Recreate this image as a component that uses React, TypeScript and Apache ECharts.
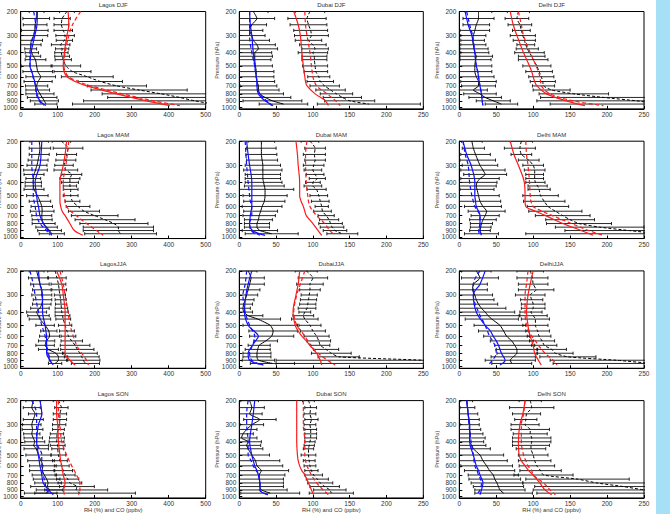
import React, { useEffect, useRef } from "react";
import * as echarts from "echarts";

// Pressure levels (hPa) of the sonde means and of the model profiles
const obsLevels = [200, 225, 250, 275, 300, 325, 350, 375, 400, 425, 450, 500, 550, 600, 650, 700, 750, 800, 850, 900, 950];
const modelLevels = [200, 250, 300, 400, 500, 550, 600, 650, 700, 800, 900, 975];
const pressureTicks = [200, 300, 400, 500, 600, 700, 800, 900, 1000];

// ---- Lagos DJF ----
const lagosDjfRh = [43, 42, 39, 38, 35, 29, 27, 27, 30, 34, 40, 43, 46, 54, 47, 43, 46, 52, 58, 64, 68];
const lagosDjfRhStd = [20, 36, 32, 36, 38, 30, 28, 16, 18, 20, 28, 42, 40, 40, 38, 30, 32, 38, 40, 38, 30];
const lagosDjfCo = [125, 112, 110, 115, 120, 118, 108, 112, 110, 112, 115, 122, 140, 180, 215, 260, 320, 380, 430, 470, 520];
const lagosDjfCoStd = [20, 22, 20, 25, 25, 22, 25, 18, 18, 20, 22, 40, 50, 70, 60, 80, 130, 160, 195, 300, 380];
const lagosDjfRhModel = [45, 44, 38, 28, 25, 30, 34, 38, 40, 44, 52, 68];
const lagosDjfRhModel2 = [35, 40, 35, 25, 25, 30, 33, 37, 40, 42, 50, 62];
const lagosDjfCoModel = [128, 130, 125, 118, 115, 117, 125, 147, 178, 259, 340, 403];
const lagosDjfCoModel2 = [162, 140, 130, 120, 117, 120, 130, 155, 190, 275, 360, 430];

// ---- Dubai DJF ----
const dubaiDjfRh = [19, 24, 17, 14, 17, 19, 24, 26, 21, 21, 21, 22, 23, 23, 24, 26, 26, 28, 35, 45, 60];
const dubaiDjfRhStd = [20, 24, 20, 18, 18, 22, 25, 26, 23, 24, 22, 23, 24, 24, 24, 25, 28, 32, 35, 40, 33];
const dubaiDjfCo = [96, 92, 94, 97, 98, 94, 100, 103, 100, 102, 102, 103, 104, 108, 110, 116, 124, 132, 140, 150, 176];
const dubaiDjfCoStd = [20, 26, 25, 23, 23, 18, 18, 18, 20, 17, 17, 17, 16, 15, 18, 20, 20, 22, 26, 34, 70];
const dubaiDjfRhModel = [14, 15, 17, 19, 21, 22, 23, 24, 24, 26, 35, 46];
const dubaiDjfRhModel2 = [14, 14, 14, 17, 21, 22, 23, 24, 24, 28, 37, 44];
const dubaiDjfCoModel = [74, 80, 83, 85, 87, 88, 89, 90, 92, 103, 117, 121];
const dubaiDjfCoModel2 = [89, 90, 92, 96, 98, 99, 100, 102, 105, 119, 131, 137];

// ---- Delhi DJF ----
const delhiDjfRh = [26, 26, 23, 21, 19, 18, 19, 20, 21, 23, 22, 21, 21, 23, 26, 26, 19, 28, 35, 46, 57];
const delhiDjfRhStd = [18, 21, 18, 20, 17, 16, 17, 19, 19, 22, 21, 23, 23, 24, 24, 23, 19, 22, 22, 23, 22];
const delhiDjfCo = [80, 78, 82, 84, 86, 88, 90, 92, 95, 98, 100, 105, 108, 111, 113, 114, 125, 155, 195, 240, 270];
const delhiDjfCoStd = [15, 16, 16, 12, 17, 15, 12, 15, 20, 18, 20, 19, 18, 17, 17, 15, 25, 47, 85, 135, 147];
const delhiDjfRhModel = [8, 12, 17, 21, 23, 25, 26, 27, 28, 30, 31, 32];
const delhiDjfRhModel2 = [10, 14, 18, 21, 23, 25, 26, 27, 28, 30, 31, 32];
const delhiDjfCoModel = [69, 73, 78, 87, 95, 98, 100, 102, 105, 118, 145, 170];
const delhiDjfCoModel2 = [80, 84, 87, 96, 104, 107, 109, 110, 111, 123, 154, 195];

// ---- Lagos MAM ----
const lagosMamRh = [50, 52, 50, 47, 44, 40, 36, 34, 34, 34, 36, 45, 52, 57, 58, 57, 58, 62, 70, 78, 84];
const lagosMamRhStd = [25, 29, 27, 27, 27, 32, 27, 20, 22, 22, 27, 29, 29, 29, 32, 27, 27, 31, 29, 32, 34];
const lagosMamCo = [110, 128, 124, 122, 117, 122, 138, 133, 133, 133, 135, 135, 140, 155, 171, 200, 228, 252, 264, 264, 270];
const lagosMamCoStd = [25, 40, 27, 27, 25, 32, 27, 27, 23, 18, 20, 20, 20, 32, 42, 63, 81, 92, 95, 95, 97];
const lagosMamRhModel = [57, 55, 52, 39, 43, 45, 48, 50, 52, 61, 75, 84];
const lagosMamRhModel2 = [30, 30, 30, 34, 34, 36, 39, 41, 43, 52, 70, 79];
const lagosMamCoModel = [124, 120, 115, 106, 106, 106, 108, 112, 120, 133, 145, 168];
const lagosMamCoModel2 = [130, 126, 122, 115, 118, 120, 124, 135, 150, 178, 205, 223];

// ---- Dubai MAM ----
const dubaiMamRh = [30, 30, 30, 31, 32, 32, 32, 32, 33, 34, 35, 35, 34, 31, 29, 27, 26, 24, 24, 28, 44];
const dubaiMamRhStd = [18, 20, 21, 21, 24, 26, 24, 24, 25, 27, 39, 30, 28, 27, 23, 22, 19, 17, 17, 24, 36];
const dubaiMamCo = [96, 103, 102, 103, 101, 100, 103, 106, 100, 100, 105, 108, 110, 112, 113, 118, 122, 124, 126, 130, 140];
const dubaiMamCoStd = [12, 14, 15, 14, 14, 12, 12, 11, 10, 12, 13, 12, 12, 9, 12, 11, 13, 16, 16, 16, 21];
const dubaiMamRhModel = [10, 12, 14, 17, 17, 17, 17, 16, 15, 14, 18, 35];
const dubaiMamRhModel2 = [8, 9, 10, 12, 14, 15, 17, 17, 17, 14, 16, 28];
const dubaiMamCoModel = [77, 79, 80, 82, 82, 84, 87, 89, 91, 100, 107, 112];
const dubaiMamCoModel2 = [92, 90, 90, 91, 93, 94, 96, 100, 105, 116, 123, 130];

// ---- Delhi MAM ----
const delhiMamRh = [17, 19, 22, 25, 28, 32, 35, 28, 24, 23, 24, 26, 28, 32, 37, 35, 32, 30, 29, 28, 30];
const delhiMamRhStd = [14, 15, 20, 24, 24, 30, 29, 26, 27, 27, 23, 28, 28, 25, 25, 19, 18, 15, 14, 14, 23];
const delhiMamCo = [84, 82, 84, 94, 100, 102, 102, 102, 103, 106, 108, 110, 115, 120, 130, 140, 150, 162, 190, 230, 270];
const delhiMamCoStd = [15, 21, 14, 14, 14, 14, 12, 12, 13, 13, 15, 24, 28, 28, 36, 37, 33, 44, 60, 87, 180];
const delhiMamRhModel = [5, 10, 16, 21, 21, 22, 23, 26, 28, 28, 28, 30];
const delhiMamRhModel2 = [5, 8, 12, 14, 17, 19, 21, 25, 28, 28, 26, 28];
const delhiMamCoModel = [69, 74, 80, 88, 89, 89, 90, 103, 117, 140, 165, 181];
const delhiMamCoModel2 = [90, 91, 93, 95, 96, 97, 100, 112, 126, 152, 175, 195];

// ---- Lagos JJA ----
const lagosJjaRh = [43, 48, 52, 57, 57, 59, 57, 52, 43, 48, 52, 66, 76, 78, 70, 66, 75, 95, 102, 102, 93];
const lagosJjaRhStd = [20, 27, 25, 25, 27, 25, 25, 25, 27, 29, 29, 25, 22, 27, 22, 25, 27, 22, 25, 25, 18];
const lagosJjaCo = [93, 98, 102, 104, 106, 108, 109, 110, 111, 113, 115, 120, 125, 129, 138, 147, 153, 160, 165, 169, 175];
const lagosJjaCoStd = [20, 25, 20, 20, 15, 15, 15, 17, 18, 20, 20, 18, 20, 20, 29, 40, 45, 47, 47, 45, 38];
const lagosJjaRhModel = [48, 52, 59, 59, 66, 68, 70, 70, 70, 70, 79, 88];
const lagosJjaRhModel2 = [25, 34, 39, 48, 57, 62, 66, 68, 70, 75, 79, 88];
const lagosJjaCoModel = [97, 111, 115, 120, 120, 120, 120, 120, 120, 120, 133, 147];
const lagosJjaCoModel2 = [106, 115, 120, 128, 133, 138, 142, 147, 151, 165, 178, 183];

// ---- Dubai JJA ----
const dubaiJjaRh = [12, 16, 14, 12, 10, 8, 6, 5, 6, 12, 25, 42, 46, 44, 36, 27, 25, 24, 24, 26, 45];
const dubaiJjaRhStd = [12, 18, 20, 16, 15, 12, 12, 10, 12, 20, 31, 37, 33, 30, 16, 15, 17, 19, 19, 22, 30];
const dubaiJjaCo = [91, 100, 96, 96, 95, 94, 93, 92, 89, 87, 89, 96, 100, 105, 108, 110, 118, 125, 135, 250, 300];
const dubaiJjaCoStd = [15, 20, 18, 14, 11, 11, 11, 12, 8, 14, 18, 15, 17, 17, 16, 13, 17, 27, 28, 200, 250];
const dubaiJjaRhModel = [17, 12, 9, 7, 12, 20, 26, 22, 18, 12, 14, 33];
const dubaiJjaRhModel2 = [10, 8, 5, 8, 14, 18, 21, 20, 18, 14, 17, 32];
const dubaiJjaCoModel = [82, 80, 77, 73, 76, 80, 85, 91, 96, 105, 110, 112];
const dubaiJjaCoModel2 = [89, 83, 78, 74, 78, 84, 89, 93, 96, 107, 120, 130];

// ---- Delhi JJA ----
const delhiJjaRh = [23, 28, 19, 18, 21, 23, 26, 30, 35, 39, 44, 55, 60, 64, 71, 75, 78, 78, 73, 69, 71];
const delhiJjaRhStd = [20, 25, 19, 20, 24, 24, 26, 33, 40, 43, 36, 35, 34, 31, 29, 27, 28, 27, 30, 34, 27];
const delhiJjaCo = [96, 99, 100, 104, 96, 98, 100, 100, 97, 100, 103, 103, 106, 108, 112, 115, 125, 130, 147, 213, 260];
const delhiJjaCoStd = [18, 21, 20, 24, 20, 15, 16, 16, 15, 19, 19, 17, 16, 16, 17, 17, 20, 24, 38, 90, 133];
const delhiJjaRhModel = [35, 28, 19, 23, 35, 42, 46, 50, 53, 57, 62, 55];
const delhiJjaRhModel2 = [28, 19, 19, 26, 35, 38, 41, 45, 48, 50, 45, 39];
const delhiJjaCoModel = [100, 96, 93, 91, 93, 94, 96, 98, 100, 102, 107, 111];
const delhiJjaCoModel2 = [93, 91, 89, 89, 91, 94, 98, 103, 107, 116, 127, 132];

// ---- Lagos SON ----
const lagosSonRh = [34, 30, 39, 34, 30, 32, 30, 34, 38, 35, 42, 48, 55, 60, 58, 64, 70, 74, 72, 78, 68];
const lagosSonRhStd = [20, 23, 18, 27, 25, 28, 22, 25, 27, 40, 33, 34, 36, 36, 34, 33, 36, 36, 45, 36, 30];
const lagosSonCo = [102, 110, 106, 106, 104, 102, 98, 98, 97, 100, 100, 102, 106, 111, 115, 120, 127, 133, 152, 150, 160];
const lagosSonCoStd = [14, 18, 18, 18, 18, 16, 18, 20, 20, 20, 16, 20, 20, 20, 25, 27, 30, 32, 47, 85, 150];
const lagosSonRhModel = [52, 57, 48, 43, 48, 50, 52, 55, 57, 61, 75, 88];
const lagosSonRhModel2 = [30, 43, 43, 43, 57, 57, 57, 59, 61, 66, 70, 79];
const lagosSonCoModel = [97, 97, 100, 102, 106, 108, 111, 113, 115, 120, 116, 118];
const lagosSonCoModel2 = [102, 102, 106, 111, 124, 131, 138, 145, 151, 160, 160, 156];

// ---- Dubai SON ----
const dubaiSonRh = [14, 17, 14, 28, 17, 10, 5, 3, 12, 10, 12, 17, 22, 24, 30, 27, 27, 28, 28, 30, 42];
const dubaiSonRhStd = [12, 17, 17, 22, 16, 14, 14, 21, 18, 19, 20, 24, 33, 35, 37, 35, 33, 32, 32, 35, 40];
const dubaiSonCo = [94, 97, 96, 98, 96, 97, 97, 97, 96, 95, 94, 94, 95, 96, 98, 101, 106, 110, 116, 123, 125];
const dubaiSonCoStd = [8, 8, 8, 9, 8, 8, 8, 8, 7, 7, 7, 10, 8, 8, 9, 12, 15, 17, 20, 22, 30];
const dubaiSonRhModel = [21, 19, 17, 14, 17, 19, 21, 24, 26, 28, 28, 39];
const dubaiSonRhModel2 = [12, 10, 10, 12, 12, 16, 19, 23, 26, 28, 28, 39];
const dubaiSonCoModel = [78, 78, 78, 78, 79, 80, 82, 85, 89, 94, 98, 101];
const dubaiSonCoModel2 = [87, 87, 87, 89, 89, 90, 92, 95, 98, 105, 114, 121];

// ---- Delhi SON ----
const delhiSonRh = [10, 11, 12, 13, 14, 14, 15, 14, 14, 17, 19, 28, 32, 37, 41, 46, 48, 51, 53, 55, 60];
const delhiSonRhStd = [8, 10, 13, 14, 13, 15, 17, 21, 19, 19, 23, 32, 33, 35, 34, 34, 35, 35, 34, 34, 39];
const delhiSonCo = [96, 98, 91, 90, 89, 96, 96, 98, 98, 97, 97, 100, 102, 105, 110, 114, 160, 186, 222, 250, 280];
const delhiSonCoStd = [15, 30, 19, 15, 19, 26, 23, 26, 26, 25, 20, 20, 22, 24, 28, 40, 70, 100, 120, 150, 175];
const delhiSonRhModel = [10, 12, 14, 14, 19, 21, 23, 26, 28, 32, 30, 28];
const delhiSonRhModel2 = [10, 12, 13, 16, 19, 20, 21, 24, 26, 30, 28, 23];
const delhiSonCoModel = [89, 86, 82, 80, 81, 84, 89, 94, 100, 109, 116, 125];
const delhiSonCoModel2 = [89, 87, 84, 84, 87, 90, 93, 98, 100, 114, 123, 130];

type Panel = {
  title: string;
  xMax: number;
  rh: number[]; rhStd: number[]; co: number[]; coStd: number[];
  rhModel: number[]; rhModel2: number[]; coModel: number[]; coModel2: number[];
};

const panels: Panel[] = [
  { title: "Lagos DJF", xMax: 500, rh: lagosDjfRh, rhStd: lagosDjfRhStd, co: lagosDjfCo, coStd: lagosDjfCoStd, rhModel: lagosDjfRhModel, rhModel2: lagosDjfRhModel2, coModel: lagosDjfCoModel, coModel2: lagosDjfCoModel2 },
  { title: "Dubai DJF", xMax: 250, rh: dubaiDjfRh, rhStd: dubaiDjfRhStd, co: dubaiDjfCo, coStd: dubaiDjfCoStd, rhModel: dubaiDjfRhModel, rhModel2: dubaiDjfRhModel2, coModel: dubaiDjfCoModel, coModel2: dubaiDjfCoModel2 },
  { title: "Delhi DJF", xMax: 250, rh: delhiDjfRh, rhStd: delhiDjfRhStd, co: delhiDjfCo, coStd: delhiDjfCoStd, rhModel: delhiDjfRhModel, rhModel2: delhiDjfRhModel2, coModel: delhiDjfCoModel, coModel2: delhiDjfCoModel2 },
  { title: "Lagos MAM", xMax: 500, rh: lagosMamRh, rhStd: lagosMamRhStd, co: lagosMamCo, coStd: lagosMamCoStd, rhModel: lagosMamRhModel, rhModel2: lagosMamRhModel2, coModel: lagosMamCoModel, coModel2: lagosMamCoModel2 },
  { title: "Dubai MAM", xMax: 250, rh: dubaiMamRh, rhStd: dubaiMamRhStd, co: dubaiMamCo, coStd: dubaiMamCoStd, rhModel: dubaiMamRhModel, rhModel2: dubaiMamRhModel2, coModel: dubaiMamCoModel, coModel2: dubaiMamCoModel2 },
  { title: "Delhi MAM", xMax: 250, rh: delhiMamRh, rhStd: delhiMamRhStd, co: delhiMamCo, coStd: delhiMamCoStd, rhModel: delhiMamRhModel, rhModel2: delhiMamRhModel2, coModel: delhiMamCoModel, coModel2: delhiMamCoModel2 },
  { title: "LagosJJA", xMax: 500, rh: lagosJjaRh, rhStd: lagosJjaRhStd, co: lagosJjaCo, coStd: lagosJjaCoStd, rhModel: lagosJjaRhModel, rhModel2: lagosJjaRhModel2, coModel: lagosJjaCoModel, coModel2: lagosJjaCoModel2 },
  { title: "DubaiJJA", xMax: 250, rh: dubaiJjaRh, rhStd: dubaiJjaRhStd, co: dubaiJjaCo, coStd: dubaiJjaCoStd, rhModel: dubaiJjaRhModel, rhModel2: dubaiJjaRhModel2, coModel: dubaiJjaCoModel, coModel2: dubaiJjaCoModel2 },
  { title: "DelhiJJA", xMax: 250, rh: delhiJjaRh, rhStd: delhiJjaRhStd, co: delhiJjaCo, coStd: delhiJjaCoStd, rhModel: delhiJjaRhModel, rhModel2: delhiJjaRhModel2, coModel: delhiJjaCoModel, coModel2: delhiJjaCoModel2 },
  { title: "Lagos SON", xMax: 500, rh: lagosSonRh, rhStd: lagosSonRhStd, co: lagosSonCo, coStd: lagosSonCoStd, rhModel: lagosSonRhModel, rhModel2: lagosSonRhModel2, coModel: lagosSonCoModel, coModel2: lagosSonCoModel2 },
  { title: "Dubai SON", xMax: 250, rh: dubaiSonRh, rhStd: dubaiSonRhStd, co: dubaiSonCo, coStd: dubaiSonCoStd, rhModel: dubaiSonRhModel, rhModel2: dubaiSonRhModel2, coModel: dubaiSonCoModel, coModel2: dubaiSonCoModel2 },
  { title: "Delhi SON", xMax: 250, rh: delhiSonRh, rhStd: delhiSonRhStd, co: delhiSonCo, coStd: delhiSonCoStd, rhModel: delhiSonRhModel, rhModel2: delhiSonRhModel2, coModel: delhiSonCoModel, coModel2: delhiSonCoModel2 },
];

// Panel frame geometry
const colLeft = [20.7, 239.3, 459.3];
const colWidth = [185, 184, 184.7];
const rowTop0 = 11.5;
const rowStep = 129.7;
const pTop = 200;
const pBottom = 1030;
const pxPerLn = 59.4;
const plotHeight = pxPerLn * Math.log(pBottom / pTop);

const FONT = "Liberation Sans, Arial, sans-serif";
const BLUE = "#1010ff";
const RED = "#ff1a1a";

const profile = (vals: number[], levels: number[]) => vals.map((v, k) => [v, Math.log(levels[k])]);
const bars = (vals: number[], std: number[]) => vals.map((v, k) => [v, Math.log(obsLevels[k]), std[k]]);

const errorBarRender = (_params: any, api: any) => {
  const x = api.value(0);
  const y = api.value(1);
  const s = api.value(2);
  const lo = api.coord([x - s, y]);
  const hi = api.coord([x + s, y]);
  const h = 1.6;
  const st = { stroke: "#111", lineWidth: 0.9 };
  return {
    type: "group",
    children: [
      { type: "line", shape: { x1: lo[0], y1: lo[1], x2: hi[0], y2: hi[1] }, style: st },
      { type: "line", shape: { x1: lo[0], y1: lo[1] - h, x2: lo[0], y2: lo[1] + h }, style: st },
      { type: "line", shape: { x1: hi[0], y1: hi[1] - h, x2: hi[0], y2: hi[1] + h }, style: st },
    ],
  };
};

const lnTicks = pressureTicks.map((t) => Math.log(t));
const pressureLabel = (v: number) => String(Math.round(Math.exp(v)));

function buildOption() {
  const grid: any[] = [];
  const xAxis: any[] = [];
  const yAxis: any[] = [];
  const series: any[] = [];
  const graphic: any[] = [];

  panels.forEach((p, i) => {
    const row = Math.floor(i / 3);
    const col = i % 3;
    const left = colLeft[col];
    const top = rowTop0 + rowStep * row;
    const width = colWidth[col];
    grid.push({
      left, top, width, height: plotHeight,
      show: true, borderColor: "#000", borderWidth: 1, backgroundColor: "#fff",
      containLabel: false, outerBoundsMode: "none",
    });
    xAxis.push({
      type: "value", gridIndex: i, min: 0, max: p.xMax, interval: p.xMax / 5,
      axisLine: { show: true, lineStyle: { color: "#000", width: 1 } },
      axisTick: { show: true, inside: true, length: 3, lineStyle: { color: "#000" } },
      axisLabel: { fontSize: 6.5, color: "#333", margin: 2, fontFamily: FONT, showMinLabel: true, showMaxLabel: true },
      splitLine: { show: false },
    });
    const yBase = {
      type: "value", gridIndex: i, inverse: true, position: "left",
      min: Math.log(pTop), max: Math.log(pBottom),
      splitLine: { show: false },
    };
    // main pressure axis: line, ticks, labels 200..900 and the axis name
    yAxis.push({
      ...yBase,
      axisLine: { show: true, lineStyle: { color: "#000", width: 1 } },
      axisTick: { show: true, inside: true, length: 3, lineStyle: { color: "#000" }, customValues: lnTicks },
      axisLabel: {
        fontSize: 6.5, color: "#333", margin: 3, fontFamily: FONT,
        customValues: lnTicks.slice(0, -1), formatter: pressureLabel,
      },
      name: "Pressure (hPa)", nameLocation: "middle", nameGap: 19, nameRotate: 90,
      nameTextStyle: { fontSize: 5.5, color: "#444", fontFamily: FONT },
    });
    // companion axis carrying only the 1000 hPa label (sits tight under 900)
    yAxis.push({
      ...yBase,
      axisLine: { show: false },
      axisTick: { show: false },
      axisLabel: {
        fontSize: 6.5, color: "#333", margin: 3, fontFamily: FONT,
        customValues: lnTicks.slice(-1), formatter: pressureLabel,
      },
    });

    const ax = { xAxisIndex: i, yAxisIndex: 2 * i };
    const lineBase = { type: "line", ...ax, symbol: "none", silent: true, clip: true };

    series.push({ type: "custom", ...ax, clip: true, silent: true, renderItem: errorBarRender, encode: { x: 0, y: 1 }, data: bars(p.rh, p.rhStd), z: 2 });
    series.push({ type: "custom", ...ax, clip: true, silent: true, renderItem: errorBarRender, encode: { x: 0, y: 1 }, data: bars(p.co, p.coStd), z: 2 });
    series.push({ ...lineBase, data: profile(p.rh, obsLevels), smooth: 0.2, lineStyle: { color: "#000", width: 1 }, z: 3 });
    series.push({ ...lineBase, data: profile(p.co, obsLevels), smooth: 0.2, lineStyle: { color: "#000", width: 1, type: [3, 2] }, z: 3 });
    series.push({ ...lineBase, data: profile(p.rhModel, modelLevels), smooth: 0.35, lineStyle: { color: BLUE, width: 1.2 }, z: 4 });
    series.push({ ...lineBase, data: profile(p.rhModel2, modelLevels), smooth: 0.35, lineStyle: { color: BLUE, width: 1.2, type: [4, 2.5] }, z: 4 });
    series.push({ ...lineBase, data: profile(p.coModel, modelLevels), smooth: 0.35, lineStyle: { color: RED, width: 1.2 }, z: 4 });
    series.push({ ...lineBase, data: profile(p.coModel2, modelLevels), smooth: 0.35, lineStyle: { color: RED, width: 1.2, type: [4, 2.5] }, z: 4 });

    graphic.push({
      type: "text", x: left + width / 2, y: top - 6.5, silent: true,
      style: { text: p.title, fontSize: 6, fontFamily: FONT, fill: "#333", align: "center", verticalAlign: "middle" },
    });
    if (row === 3) {
      graphic.push({
        type: "text", x: left + width / 2, y: top + plotHeight + 12.5, silent: true,
        style: { text: "RH (%) and CO (ppbv)", fontSize: 5.8, fontFamily: FONT, fill: "#333", align: "center", verticalAlign: "middle" },
      });
    }
  });

  graphic.push({ type: "rect", shape: { x: 656, y: 0, width: 14, height: 514 }, style: { fill: "#a6e0f6" }, silent: true, z: -1 });

  return {
    animation: false,
    backgroundColor: "#fff",
    grid, xAxis, yAxis, series, graphic,
  };
}

export default function App() {
  const ref = useRef<HTMLDivElement>(null);
  useEffect(() => {
    document.body.style.margin = "0";
    if (!ref.current) return;
    const chart = echarts.init(ref.current, undefined, { renderer: "svg" });
    chart.setOption(buildOption() as any);
    return () => chart.dispose();
  }, []);
  return <div ref={ref} style={{ width: 670, height: 514 }} />;
}
